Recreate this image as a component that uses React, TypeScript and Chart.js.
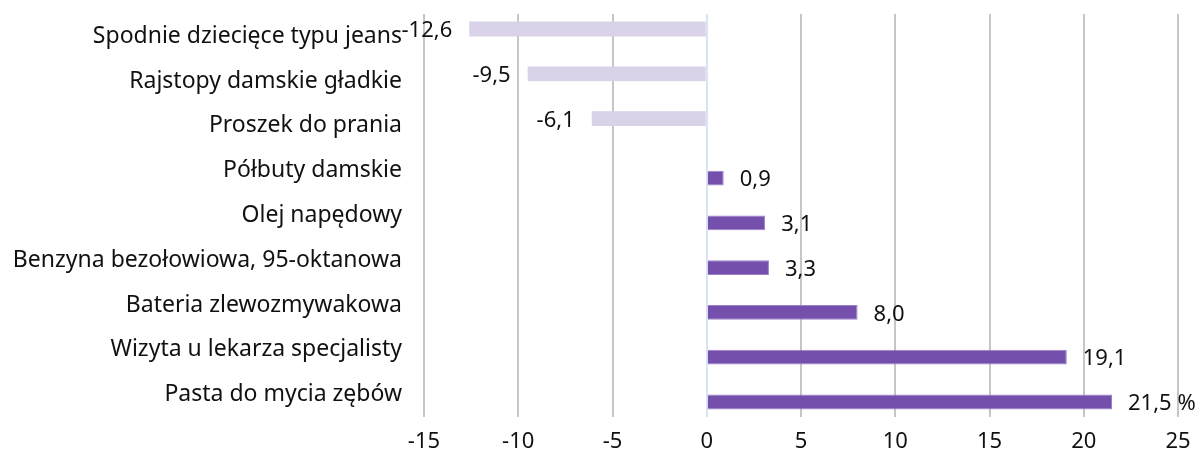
import React, { useEffect, useRef } from "react";
import { Chart, registerables } from "chart.js";

Chart.register(...registerables);

const categories = [
  "Spodnie dziecięce typu jeans",
  "Rajstopy damskie gładkie",
  "Proszek do prania",
  "Półbuty damskie",
  "Olej napędowy",
  "Benzyna bezołowiowa, 95-oktanowa",
  "Bateria zlewozmywakowa",
  "Wizyta u lekarza specjalisty",
  "Pasta do mycia zębów",
];
const decreases = [-12.6, -9.5, -6.1, null, null, null, null, null, null];
const increases = [null, null, null, 0.9, 3.1, 3.3, 8.0, 19.1, 21.5];
const xTicks = [-15, -10, -5, 0, 5, 10, 15, 20, 25];

const FONT = "'Noto Sans', sans-serif";

const labelPlugin = {
  id: "valueLabels",
  afterDatasetsDraw(chart: any) {
    const ctx = chart.ctx;
    ctx.save();
    ctx.font = `22px ${FONT}`;
    ctx.fillStyle = "#111111";
    ctx.textBaseline = "middle";
    chart.data.datasets.forEach((ds: any, di: number) => {
      const meta = chart.getDatasetMeta(di);
      meta.data.forEach((el: any, i: number) => {
        const v = ds.data[i];
        if (v === null || v === undefined) return;
        let txt = v.toFixed(1).replace(".", ",");
        if (i === ds.data.length - 1) txt += " %";
        if (v < 0) {
          ctx.textAlign = "right";
          ctx.fillText(txt, el.x - 17, el.y + 2);
        } else {
          ctx.textAlign = "left";
          ctx.fillText(txt, el.x + 16, el.y + 2);
        }
      });
    });
    ctx.restore();
  },
};

export default function App() {
  const ref = useRef<HTMLCanvasElement>(null);
  useEffect(() => {
    if (!ref.current) return;
    const chart = new Chart(ref.current, {
      type: "bar",
      data: {
        labels: categories,
        datasets: [
          {
            data: decreases as any,
            backgroundColor: "#d9d2e9",
            borderWidth: 0,
            barPercentage: 1,
            categoryPercentage: 0.66,
          },
          {
            data: increases as any,
            backgroundColor: "#7450ac",
            borderColor: "#9a80c8",
            borderWidth: 1,
            barPercentage: 1,
            categoryPercentage: 0.66,
          },
        ],
      },
      options: {
        indexAxis: "y",
        animation: false,
        responsive: false,
        maintainAspectRatio: false,
        layout: { padding: { left: 0, right: 19, top: 0, bottom: 0 } },
        plugins: {
          legend: { display: false },
          tooltip: { enabled: false },
        },
        scales: {
          x: {
            min: -15,
            max: 25,
            afterBuildTicks: (scale: any) => {
              scale.ticks = xTicks.map((v) => ({ value: v }));
            },
            afterFit: (scale: any) => {
              scale.height = 38;
              scale.paddingRight = 0;
              scale.paddingLeft = 0;
            },
            border: { display: false },
            grid: {
              color: (c: any) => (c.tick && c.tick.value === 0 ? "#dae3f3" : "#c6c6c6"),
              lineWidth: 2,
              drawTicks: false,
            },
            ticks: {
              color: "#111111",
              font: { family: FONT, size: 22 },
              padding: 12,
              callback: (v: any) => String(v),
            },
          },
          y: {
            border: { display: false },
            grid: { display: false, drawTicks: false },
            afterFit: (scale: any) => {
              scale.width = 424;
              scale.paddingTop = 14;
              scale.paddingBottom = 0;
            },
            ticks: {
              color: "#111111",
              font: { family: FONT, size: 23 },
              padding: 22,
            },
          },
        },
      },
      plugins: [labelPlugin],
    });
    return () => chart.destroy();
  }, []);
  return (
    <div style={{ position: "fixed", left: 0, top: 0, width: 1197, height: 455, background: "#fff" }}>
      <canvas ref={ref} width={1197} height={455} style={{ display: "block" }} />
    </div>
  );
}
